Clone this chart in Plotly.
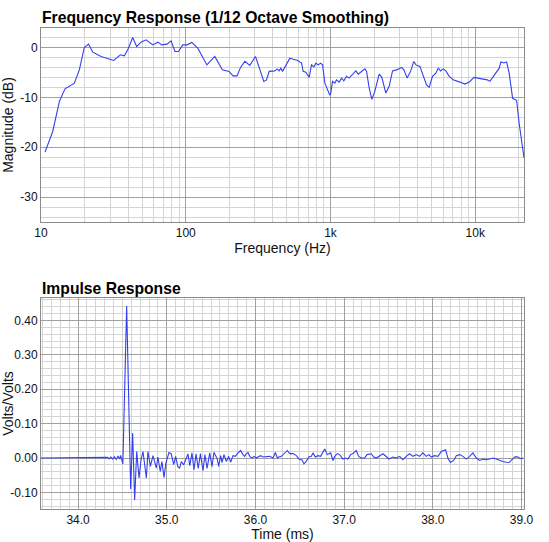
import math
import plotly.graph_objects as go

# ---------------- data ----------------
freq_hz = [10.66, 12.05, 13.4, 14.65, 17.0, 18.4, 19.9, 21.3, 22.8, 26.0, 31.8, 35.4, 37.7,
           40.2, 43.0, 45.8, 49.1, 53.2, 59.2, 64.1, 68.3, 74.3, 79.1, 84.3, 89.1, 95.3,
           102, 110, 121, 125, 140, 158.6, 179, 199, 212, 226, 239, 256, 277, 303, 325,
           346, 361, 377, 412, 428, 441, 454, 466, 491, 524, 552, 588, 631, 647, 675, 712,
           739, 767, 792, 821, 853, 881, 914, 953, 989, 1004, 1032, 1071, 1100, 1146, 1191,
           1236, 1289, 1343, 1418, 1495, 1554, 1638, 1727, 1774, 1850, 1929, 2023, 2167,
           2261, 2410, 2541, 2681, 2857, 3096, 3212, 3384, 3570, 3764, 3889, 4143, 4413,
           4606, 4801, 5065, 5341, 5543, 5759, 6001, 6266, 6606, 7037, 7426, 7828, 8480,
           9085, 9787, 10480, 11345, 12090, 12620, 13300, 14040, 14630, 15030, 15780, 16450,
           17150, 18110, 19290, 20100, 20880, 21700]
mag_db = [-21.0, -16.85, -10.8, -8.3, -7.16, -4.5, 0.0, 0.66, -0.94, -1.8, -2.6, -1.48, -1.68,
          -0.14, 2.0, 0.2, 1.06, 1.52, 0.52, 1.06, 0.52, 0.66, 1.32, -0.8, -0.8, 0.52,
          0.52, 1.0, -0.14, -0.94, -3.5, -1.8, -4.5, -4.8, -5.7, -5.7, -4.0, -2.8, -3.6, -1.8, -4.5,
          -6.8, -6.5, -4.8, -4.7, -4.3, -4.7, -4.15, -4.8, -3.5, -2.15, -2.35, -2.55, -3.15, -4.8, -4.95, -6.0,
          -3.5, -3.9, -3.15, -3.5, -3.15, -3.5, -7.15, -8.5, -9.6, -9.15, -6.8, -7.15, -6.5, -6.95, -6.15,
          -6.7, -5.8, -6.15, -5.5, -4.7, -5.35, -4.8, -4.3, -4.8, -8.15, -10.4, -8.8, -5.35,
          -6.0, -9.15, -7.8, -4.7, -4.5, -4.0, -4.5, -6.15, -4.8, -2.8, -3.5, -3.8, -5.8,
          -7.5, -8.0, -5.8, -5.15, -4.15, -4.7, -4.3, -4.7, -5.8, -6.5, -6.7, -6.95, -7.35,
          -6.95, -6.0, -6.15, -6.3, -6.5, -6.8, -5.8, -4.7, -4.15, -2.9, -3.1, -2.9,
          -5.2, -10.2, -10.6, -15.25, -18.6, -22.1]

time_ms = [33.582, 34.30, 34.33, 34.35, 34.37, 34.39, 34.41, 34.43, 34.45, 34.47, 34.48,
           34.505, 34.548, 34.593, 34.615, 34.638, 34.661, 34.687, 34.71, 34.732, 34.751,
           34.770, 34.788, 34.815, 34.845, 34.865, 34.882, 34.90, 34.927, 34.945, 34.969,
           34.99, 35.006, 35.025, 35.051, 35.078, 35.10, 35.125, 35.145, 35.165, 35.19,
           35.215, 35.239, 35.26, 35.284, 35.307, 35.33, 35.355, 35.38, 35.408, 35.43,
           35.455, 35.484, 35.51, 35.532, 35.57, 35.585, 35.608, 35.623, 35.645, 35.672,
           35.698, 35.720, 35.747, 35.773, 35.796, 35.833, 35.859, 35.878, 35.897, 35.916,
           35.935, 35.961, 35.983, 36.010, 36.029, 36.059, 36.085, 36.122, 36.160, 36.198,
           36.224, 36.247, 36.262, 36.292, 36.329, 36.359, 36.386, 36.423, 36.461, 36.498,
           36.525, 36.547, 36.573, 36.600, 36.630, 36.649, 36.675, 36.705, 36.735, 36.761,
           36.780, 36.810, 36.848, 36.874, 36.900, 36.923, 36.949, 36.987, 37.013, 37.043,
           37.073, 37.100, 37.137, 37.163, 37.193, 37.231, 37.258, 37.307, 37.333, 37.363,
           37.400, 37.438, 37.468, 37.505, 37.550, 37.588, 37.626, 37.663, 37.700, 37.738,
           37.776, 37.813, 37.851, 37.888, 37.926, 37.956, 37.982, 38.020, 38.058, 38.096,
           38.144, 38.170, 38.197, 38.235, 38.265, 38.302, 38.340, 38.377, 38.415, 38.452,
           38.490, 38.528, 38.565, 38.603, 38.640, 38.678, 38.715, 38.753, 38.790, 38.83,
           38.86, 38.89, 38.93, 38.96, 38.99, 39.02]
volts = [0.0, 0.0, 0.002, -0.002, 0.003, -0.003, 0.004, -0.004, 0.006, -0.003, 0.008,
         -0.017, 0.442, -0.090, 0.073, -0.122, 0.019, -0.058, -0.005, 0.019, -0.024,
         -0.058, 0.019, -0.024, 0.007, -0.018, -0.029, 0.003, -0.039, -0.010, -0.056,
         -0.015, 0.0, 0.016, 0.012, -0.019, 0.005, -0.025, -0.029, -0.010, -0.020,
         -0.005, 0.012, -0.022, 0.015, -0.034, 0.012, -0.030, 0.013, -0.037, 0.010,
         -0.030, 0.015, -0.025, 0.017, -0.003, -0.024, 0.007, -0.013, 0.010, -0.010,
         0.005, -0.012, 0.007, 0.005, 0.013, 0.022, 0.010, 0.005, 0.013, 0.016,
         0.005, 0.000, 0.005, 0.000, 0.003, 0.007, 0.003, 0.003, 0.005, 0.000,
         0.016, 0.000, 0.003, 0.005, 0.013, 0.022, 0.013, 0.013, 0.007, -0.005,
         -0.005, -0.017, -0.010, 0.003, 0.005, 0.015, 0.003, 0.007, 0.005, 0.015,
         0.026, 0.010, 0.015, -0.007, 0.007, 0.013, 0.010, -0.003, 0.000, -0.003,
         0.010, 0.013, 0.022, 0.005, 0.000, 0.000, 0.010, 0.0125, 0.003, 0.000,
         0.005, 0.0125, 0.006, -0.003, 0.003, 0.000, 0.005, -0.005, 0.005, 0.0125,
         0.005, 0.010, 0.005, 0.015, 0.005, 0.010, 0.003, 0.007, 0.005, 0.019,
         0.024, 0.000, -0.013, -0.007, 0.007, 0.010, 0.005, -0.003, 0.005, 0.015,
         0.000, -0.007, -0.003, -0.005, -0.003, 0.000, -0.003, -0.007, -0.010, -0.012,
         -0.013, -0.005, 0.004, 0.003, -0.002, 0.0]

freq_tickvals = [10, 100, 1000, 10000]
freq_ticktext = ["10", "100", "1k", "10k"]
mag_tickvals = [0, -10, -20, -30]
mag_ticktext = ["0", "-10", "-20", "-30"]
time_tickvals = [34.0, 35.0, 36.0, 37.0, 38.0, 39.0]
time_ticktext = ["34.0", "35.0", "36.0", "37.0", "38.0", "39.0"]
volt_tickvals = [0.40, 0.30, 0.20, 0.10, 0.00, -0.10]
volt_ticktext = ["0.40", "0.30", "0.20", "0.10", "0.00", "-0.10"]

# ---------------- style ----------------
W, H = 549, 542
FONT = "Liberation Sans, Arial, Helvetica, sans-serif"
LINE = "#3340ee"
MAJOR = "#a0a0a0"
MINOR = "#d4d4d4"
BORDER = "#8c8c8c"


def fx(p):
    return p / W


def fy(p):
    return 1 - p / H


xdom = [fx(41), fx(524)]

fig = go.Figure()
fig.add_trace(go.Scatter(x=freq_hz, y=mag_db, mode="lines", xaxis="x", yaxis="y",
                         line=dict(color=LINE, width=1.1), showlegend=False))
fig.add_trace(go.Scatter(x=time_ms, y=volts, mode="lines", xaxis="x2", yaxis="y2",
                         line=dict(color=LINE, width=1.1), showlegend=False))

common = dict(showline=True, linecolor=BORDER, linewidth=1, mirror=True, ticks="",
              zeroline=False, automargin=False, gridcolor=MAJOR, gridwidth=1, showgrid=True,
              tickfont=dict(family=FONT, size=12, color="#111"), fixedrange=True)
title_font = dict(family=FONT, size=14)

fig.update_layout(
    width=W, height=H, autosize=False,
    margin=dict(l=0, r=0, t=0, b=0),
    paper_bgcolor="white", plot_bgcolor="white",
    font=dict(family=FONT, color="#111"),
    xaxis=dict(type="log", domain=xdom, anchor="y",
               range=[1, math.log10(21700)],
               tickmode="array", tickvals=freq_tickvals, ticktext=freq_ticktext,
               minor=dict(dtick="D1", showgrid=True, gridcolor=MINOR, gridwidth=1),
               title=dict(text="Frequency (Hz)", font=title_font, standoff=1),
               **common),
    yaxis=dict(domain=[fy(222), fy(28)], anchor="x", range=[-35, 3.9],
               tickmode="array", tickvals=mag_tickvals, ticktext=mag_ticktext,
               minor=dict(dtick=2, tick0=0, showgrid=True, gridcolor=MINOR, gridwidth=1),
               title=dict(text="Magnitude (dB)", font=title_font, standoff=3),
               **common),
    xaxis2=dict(domain=xdom, anchor="y2", range=[33.582, 39.028],
                tickmode="array", tickvals=time_tickvals, ticktext=time_ticktext,
                minor=dict(dtick=0.1, tick0=34, showgrid=True, gridcolor=MINOR, gridwidth=1),
                title=dict(text="Time (ms)", font=title_font, standoff=1),
                **common),
    yaxis2=dict(domain=[fy(509), fy(298)], anchor="x2", range=[-0.148, 0.465],
                tickmode="array", tickvals=volt_tickvals, ticktext=volt_ticktext,
                minor=dict(dtick=0.02, tick0=0, showgrid=True, gridcolor=MINOR, gridwidth=1),
                title=dict(text="Volts/Volts", font=title_font, standoff=3),
                **common),
    annotations=[
        dict(text="<b>Frequency Response (1/12 Octave Smoothing)</b>", xref="paper", yref="paper",
             x=fx(40), y=fy(18), xanchor="left", yanchor="middle", showarrow=False,
             font=dict(family=FONT, size=15.7, color="black")),
        dict(text="<b>Impulse Response</b>", xref="paper", yref="paper",
             x=fx(40), y=fy(288), xanchor="left", yanchor="middle", showarrow=False,
             font=dict(family=FONT, size=15.7, color="black")),
    ],
)

fig.write_html("out.html")
